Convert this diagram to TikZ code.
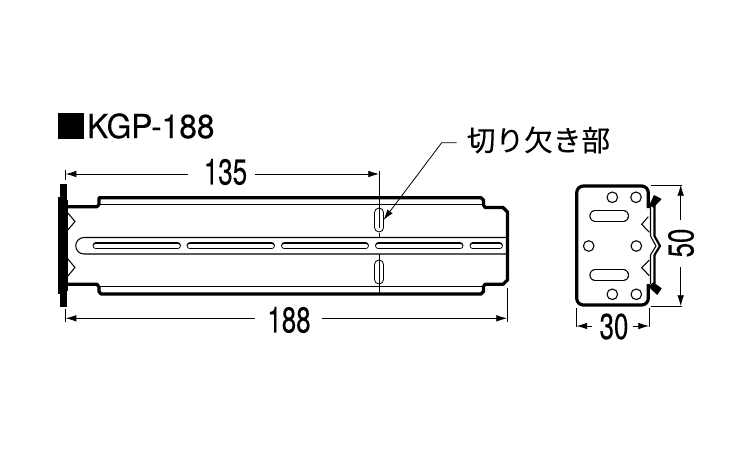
\documentclass[tikz,border=0pt]{standalone}
\usepackage{fontspec}
\setmainfont[FakeBold=0.3]{TeX Gyre Heros}
\newfontfamily\cjk[FakeBold=0.2]{Noto Sans CJK JP}
\usetikzlibrary{arrows.meta}
\tikzset{
  heavy/.style={line width=2.4pt,line join=round},
  edge/.style={line width=0.8pt},
  dimtip/.style={line width=0.6pt,-{Latex[length=8pt,width=5pt]}},
  ext/.style={line width=0.6pt},
  slotline/.style={line width=0.8pt,line cap=round,double=white,double distance=#1},
  numeral/.style={font=\fontsize{27}{27}\selectfont,xscale=0.72,inner sep=0pt}
}
\begin{document}
\begin{tikzpicture}[x=0.75pt,y=-0.75pt]
\useasboundingbox (0,0) rectangle (750,450);

\node[fill=black,minimum width=19.5pt,minimum height=19.5pt,inner sep=0pt] (mark) at (71.3,126) {};
\node[font=\fontsize{25}{25}\selectfont,xscale=0.95,inner sep=0pt] (title) at (150.8,126) {KGP-188};
\node[font=\cjk\fontsize{21.5}{21.5}\selectfont,inner sep=0pt] (cutout) at (538.5,140) {切り欠き部};

% long view
\fill (60,184) rectangle (66.5,307);
\fill (57.5,197) rectangle (60,294);
\draw[heavy] (66,206.7) -- (97,206.7) -- (99,204.5) -- (99,197.7) -- (481,197.7)
  -- (483.5,200) -- (483.5,205) -- (485,207.5) -- (503,207.5) -- (507.5,212) -- (507.5,280)
  -- (503,284.3) -- (485,284.3) -- (483.5,286.5) -- (483.5,291.5) -- (481,294) -- (101,294)
  -- (99,291.5) -- (99,287) -- (97,284.3) -- (66,284.3);
\draw[edge] (99,204.3) -- (482,204.3);
\draw[edge] (99,286.7) -- (482,286.7);
\draw[edge] (507,237.5) -- (84,237.5) arc (270:90:8.25) -- (507,254);
\draw[edge] (67,212) -- (75,221.5) -- (67,231);
\draw[edge] (67,258) -- (75,267.5) -- (67,277);
\draw[edge] (67,200) -- (67,291);
\foreach \xa/\xb in {96/177.5,190/271.5,284.5/365.5,378.5/460,473/499.5}
  \draw[slotline=3.6pt] (\xa,245.9) -- (\xb,245.9);
\foreach \ya/\yb in {212.5/227.5,264.5/279.5}
  \draw[slotline=5.8pt] (379.2,\ya) -- (379.2,\yb);

% dimensions
\coordinate (a135l) at (65.7,174);
\coordinate (a135r) at (379,174);
\coordinate (a188l) at (65.7,318.3);
\coordinate (a188r) at (507,318.3);
\draw[ext] (65.7,170) -- (65.7,180);
\draw[ext] (379,171) -- (379,228);
\draw[ext] (379,233) -- (379,237);
\draw[ext] (379,254) -- (379,294);
\draw[ext] (65.7,309) -- (65.7,322);
\draw[ext] (507,288) -- (507,322);
\node[numeral] (d135) at (225.5,172) {135};
\node[numeral] (d188) at (289,320) {188};
\draw[dimtip] (188.3,174) -- (a135l);
\draw[dimtip] (255,174) -- (a135r);
\draw[dimtip] (255,318.3) -- (a188l);
\draw[dimtip] (322,318.3) -- (a188r);

% leader
\draw[dimtip] (cutout.west) ++(-10,2.7) -- (441.7,142.7) -- (383.5,220);

% end view
\draw[heavy,rounded corners=5pt] (648.3,208) -- (648.3,186) -- (576.7,186) -- (576.7,305) -- (648.3,305) -- (648.3,284);
\foreach \cx/\cy in {612.3/197.3,636/197.3,588.7/246,636.3/246,612.3/294.3,636.3/294.3}
  \draw[edge] (\cx,\cy) circle (5.3);
\foreach \yc in {215.8,275.2}
  \draw[slotline=7.2pt] (595.2,\yc) -- (623.2,\yc);
\draw[edge] (648.3,216.7) -- (641.7,224.3) -- (649.3,232.3);
\draw[edge] (649.3,260) -- (641.7,267.7) -- (649.3,275.7);
\draw[line width=1.6pt] (654.5,205) -- (654.5,236) -- (660,246) -- (654.5,255) -- (654.5,285);
\draw[edge] (650.5,206) -- (650.5,236) -- (656,246) -- (650.5,255) -- (650.5,284);
\fill (654,195) -- (661.7,199) -- (653.3,207.7) -- (649.3,205) -- cycle;
\fill (648.3,286.7) -- (653.3,282.3) -- (661.7,288.3) -- (657.3,295) -- cycle;

\draw[ext] (651,185) -- (682,185);
\draw[ext] (651,306) -- (682,306);
\draw[ext] (576.5,308) -- (576.5,327);
\draw[ext] (649,308) -- (649,327);
\node[rotate=90,numeral] (d50) at (681,243) {50};
\node[numeral] (d30) at (614,326.5) {30};
\coordinate (a50t) at (680.7,185);
\coordinate (a50b) at (680.7,306);
\coordinate (a30l) at (576.5,326);
\coordinate (a30r) at (649,326);
\draw[dimtip] (680.7,220) -- (a50t);
\draw[dimtip] (680.7,267) -- (a50b);
\draw[dimtip] (592,326) -- (a30l);
\draw[dimtip] (633,326) -- (a30r);
\end{tikzpicture}
\end{document}
